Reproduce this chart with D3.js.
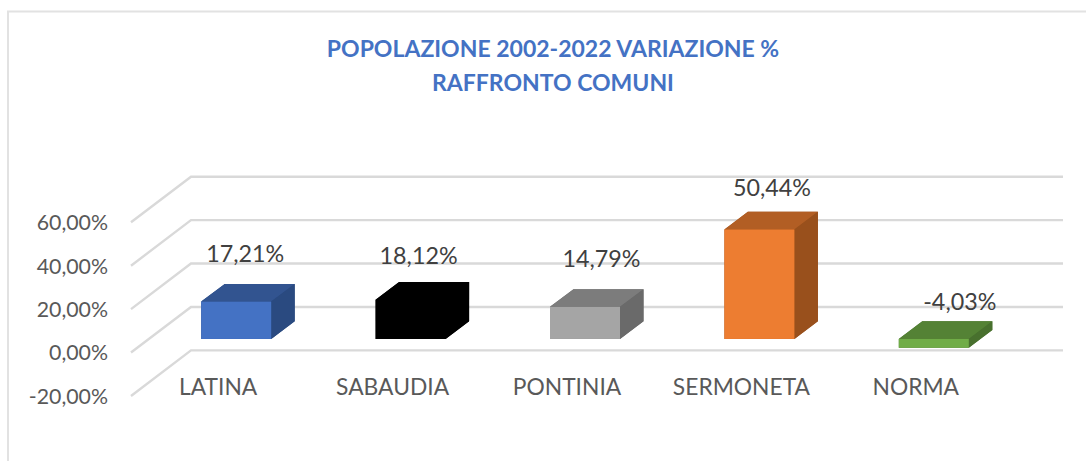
<!DOCTYPE html>
<html><head><meta charset="utf-8">
<script src="https://cdnjs.cloudflare.com/ajax/libs/d3/7.8.5/d3.min.js"></script>
<style>html,body{margin:0;padding:0;background:#fff;overflow:hidden}svg{display:block;font-family:Lato,"Open Sans",sans-serif}</style>
</head><body><svg id="c" width="1086" height="461"></svg>
<script>
const categories = ["LATINA","SABAUDIA","PONTINIA","SERMONETA","NORMA"];
const values = [17.21,18.12,14.79,50.44,-4.03];
const valueLabels = ["17,21%","18,12%","14,79%","50,44%","-4,03%"];
const tickValues = [-20,0,20,40,60];
const tickLabels = ["-20,00%","0,00%","20,00%","40,00%","60,00%"];
const titleLines = ["POPOLAZIONE 2002-2022 VARIAZIONE %","RAFFRONTO COMUNI"];
const frontColors = ["#4472c4","#000000","#a5a5a5","#ed7d31","#70ad47"];
const topColors = ["#325490","#000000","#7c7c7c","#b25e24","#548235"];
const sideColors = ["#2a4a80","#000000","#6a6a6a","#99501c","#48702e"];
const labelShift = [[9,-39.5],[8,-36],[16.5,-40],[12.5,-33],[26,-29]];

const svg = d3.select("#c");
const x = d3.scaleBand().domain(categories).range([131,1003]);
const y = d3.scaleLinear().domain([-20,60]).range([396,222.3]);
const wallDx = 60, wallDy = 45.6, barDx = 23.5, barDy = 17.7, insetX = 18, insetY = 13.6, barW = 70;
const grey = "#d9d9d9", txt = "#595959";

// chart frame
svg.append("path").attr("d","M8 461V11.5H1086").attr("fill","none").attr("stroke","#e2e2e2").attr("stroke-width",2);

// gridlines: floor/wall
const grid = svg.append("g").attr("fill","none").attr("stroke",grey).attr("stroke-width",2.4);
grid.selectAll("path").data(tickValues).join("path")
  .attr("d",d=>`M${x.range()[0]} ${y(d)}L${x.range()[0]+wallDx} ${y(d)-wallDy}H${x.range()[1]+wallDx}`);

// tick labels
svg.append("g").selectAll("text").data(tickValues).join("text")
  .attr("x",108).attr("y",d=>y(d)+2.5).attr("text-anchor","end").attr("dominant-baseline","middle")
  .attr("font-size",21.3).attr("fill",txt).text((d,i)=>tickLabels[i]);

// bars
const bars = svg.append("g").selectAll("g").data(categories).join("g");
bars.each(function(c,i){
  const g = d3.select(this), v = values[i];
  const x0 = x(c)+x.bandwidth()/2-barW/2+insetX, x1 = x0+barW;
  const yTop = y(Math.max(v,0))-insetY, yBot = y(Math.min(v,0))-insetY;
  // silhouette under the faces, so no seam shows between them
  g.append("path").attr("fill",sideColors[i])
    .attr("d",`M${x0} ${yTop}L${x0+barDx} ${yTop-barDy}H${x1+barDx}V${yBot-barDy}L${x1} ${yBot}H${x0}Z`);
  g.append("path").attr("fill",topColors[i])
    .attr("d",`M${x0} ${yTop}L${x0+barDx} ${yTop-barDy}H${x1+barDx}L${x1} ${yTop}Z`);
  g.append("path").attr("fill",sideColors[i])
    .attr("d",`M${x1} ${yTop}L${x1+barDx} ${yTop-barDy}V${yBot-barDy}L${x1} ${yBot}Z`);
  g.append("rect").attr("x",x0).attr("y",yTop).attr("width",barW).attr("height",yBot-yTop)
    .attr("fill",frontColors[i]);
  g.append("text").attr("x",x0+barW/2+labelShift[i][0]).attr("y",yTop+labelShift[i][1])
    .attr("text-anchor","middle").attr("font-size",23.3).attr("fill","#404040").text(valueLabels[i]);
});

// category labels
svg.append("g").selectAll("text").data(categories).join("text")
  .attr("x",d=>x(d)+x.bandwidth()/2).attr("y",395).attr("text-anchor","middle")
  .attr("font-size",22.8).attr("fill",txt).text(d=>d);

// title
svg.append("g").selectAll("text").data(titleLines).join("text")
  .attr("x",553).attr("y",(d,i)=>56.5+i*34.5).attr("text-anchor","middle")
  .attr("font-size",23).attr("font-weight",700).attr("fill","#4472c4").text(d=>d);
</script></body></html>
